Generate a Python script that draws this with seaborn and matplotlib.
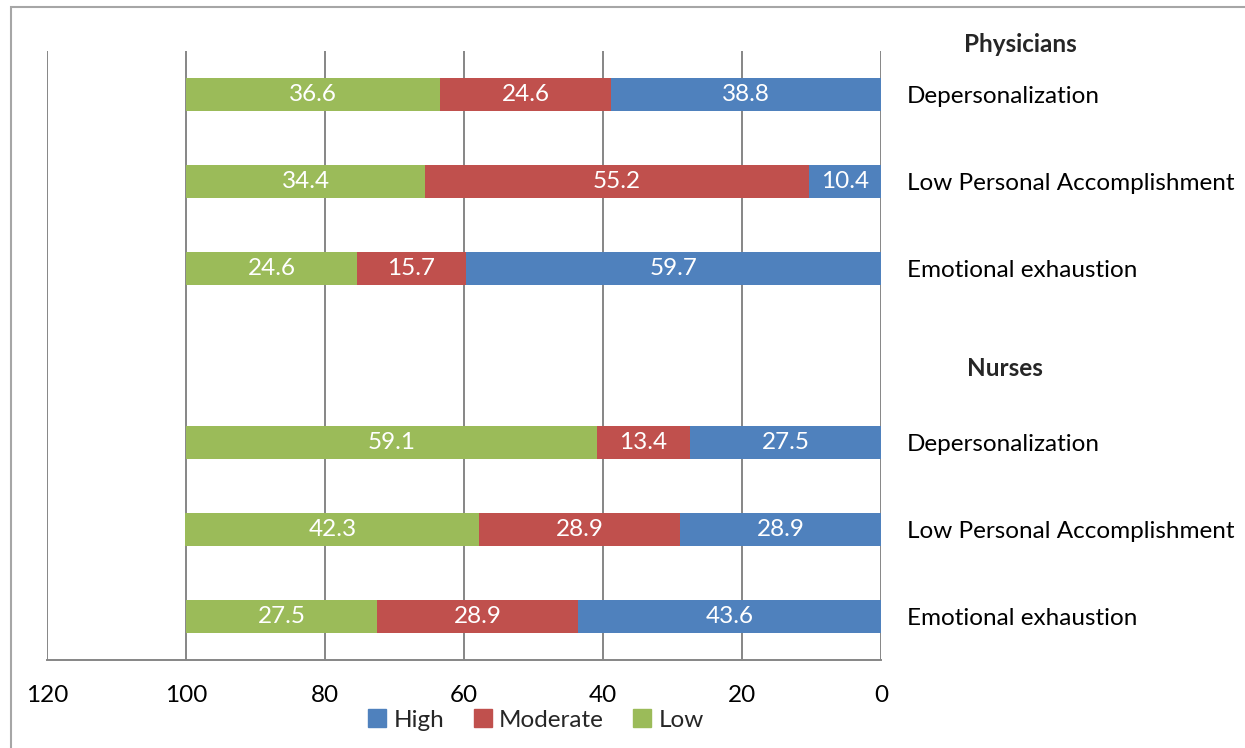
import numpy as np
import pandas as pd
import matplotlib
matplotlib.use("Agg")
import matplotlib.pyplot as plt
from matplotlib.patches import Rectangle, Patch
import seaborn as sns

# Burnout levels (%) by dimension, physicians first, then nurses
groups = ["Physicians", "Physicians", "Physicians", "Nurses", "Nurses", "Nurses"]
dimensions = ["Depersonalization", "Low Personal Accomplishment", "Emotional exhaustion",
              "Depersonalization", "Low Personal Accomplishment", "Emotional exhaustion"]
high = [38.8, 10.4, 59.7, 27.5, 28.9, 43.6]
moderate = [24.6, 55.2, 15.7, 13.4, 28.9, 28.9]
low = [36.6, 34.4, 24.6, 59.1, 42.3, 27.5]
x_ticks = [120, 100, 80, 60, 40, 20, 0]

BLUE, RED, GREEN = "#4F81BD", "#C0504D", "#9BBB59"
GRID = "#868686"

sns.set_theme(style="white")
plt.rcParams["font.family"] = ["Lato", "DejaVu Sans"]

df = pd.DataFrame({"group": groups, "dimension": dimensions,
                   "High": high, "Moderate": moderate, "Low": low})
df["row"] = df["group"] + " | " + df["dimension"]
df["high_mod"] = df["High"] + df["Moderate"]
df["total"] = df["high_mod"] + df["Low"]

# spacer row between the two groups
order = list(df["row"][:3]) + [" "] + list(df["row"][3:])

fig = plt.figure(figsize=(12.45, 7.48), dpi=100)
ax = fig.add_axes([47 / 1245, 1 - 660 / 748, (881 - 47) / 1245, (660 - 51) / 748])

# stacked bars drawn as cumulative layers (widest first)
bw = 0.39
sns.barplot(data=df, x="total", y="row", order=order, orient="h", color=GREEN,
            width=bw, saturation=1, ax=ax, linewidth=0, errorbar=None)
sns.barplot(data=df, x="high_mod", y="row", order=order, orient="h", color=RED,
            width=bw, saturation=1, ax=ax, linewidth=0, errorbar=None)
sns.barplot(data=df, x="High", y="row", order=order, orient="h", color=BLUE,
            width=bw, saturation=1, ax=ax, linewidth=0, errorbar=None)

# segment value labels
fs = 17.5
for _, r in df.iterrows():
    y = order.index(r["row"])
    for start, val in ((0, r["High"]), (r["High"], r["Moderate"]), (r["high_mod"], r["Low"])):
        ax.text(start + val / 2, y, f"{val:.1f}", ha="center", va="center",
                color="white", fontsize=fs)

ax.set_xlim(120, 0)
ax.set_ylim(len(order) - 0.5, -0.5)
ax.set_xticks(x_ticks)
ax.set_xticklabels([str(t) for t in x_ticks], fontsize=fs, color="black")
ax.tick_params(axis="x", length=0, pad=18)

ax.yaxis.tick_right()
ax.set_yticks(range(len(order)))
ax.set_yticklabels(["" if o.strip() == "" else o.split(" | ")[1] for o in order],
                   fontsize=fs, color="black")
ax.tick_params(axis="y", length=0, pad=18.5)
for lab in ax.get_yticklabels():
    lab.set_horizontalalignment("left")

ax.set_xlabel("")
ax.set_ylabel("")
ax.grid(axis="x", color=GRID, linewidth=1.4)
ax.set_axisbelow(True)
for s in ["top", "left", "right"]:
    ax.spines[s].set_visible(False)
ax.spines["bottom"].set_color(GRID)
ax.spines["bottom"].set_linewidth(1.4)

# group headers
fig.text(1020 / 1245, 1 - 45 / 748, "Physicians", ha="center", va="center",
         fontsize=fs, fontweight="bold")
fig.text(1005 / 1245, 1 - 368 / 748, "Nurses", ha="center", va="center",
         fontsize=fs, fontweight="bold")

# legend
handles = [Patch(color=BLUE, label="High"), Patch(color=RED, label="Moderate"),
           Patch(color=GREEN, label="Low")]
fig.legend(handles=handles, loc="center", bbox_to_anchor=(536 / 1245, 1 - 720 / 748),
           ncol=3, frameon=False, fontsize=fs, handlelength=0.75, handleheight=0.75,
           handletextpad=0.3, columnspacing=1.2)

# chart frame
fig.patches.append(Rectangle((11 / 1245, -0.05), 1.1, 1 - 7 / 748 + 0.05,
                             transform=fig.transFigure, fill=False,
                             edgecolor="#A6A6A6", linewidth=1.5))

fig.savefig("out.png", dpi=100, facecolor="white")
